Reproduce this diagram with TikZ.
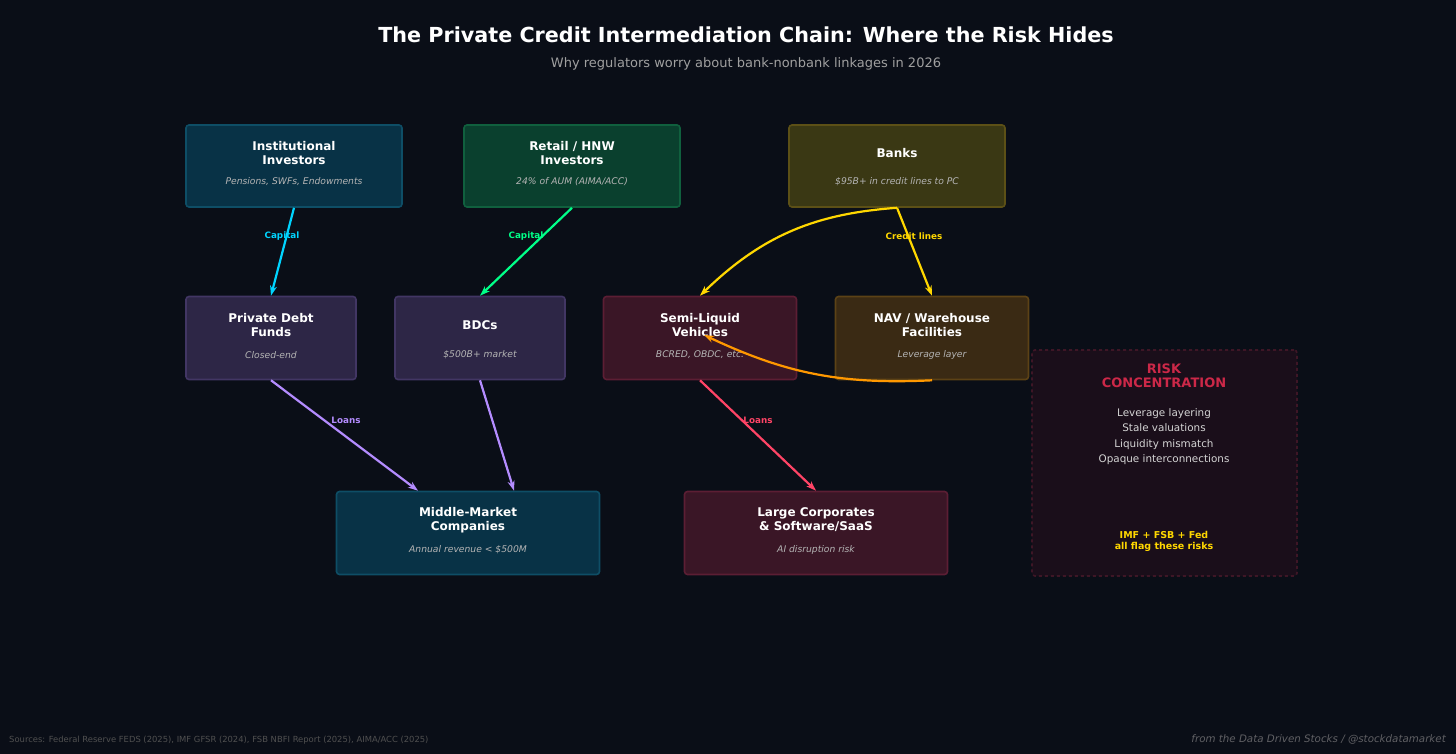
\documentclass[tikz,border=0pt]{standalone}
\usepackage{fontspec}
\setmainfont{DejaVu Sans}
\usetikzlibrary{arrows.meta,positioning}
\definecolor{bgnavy}{RGB}{10, 14, 23}
\definecolor{instfill}{RGB}{8, 50, 70}
\definecolor{instline}{RGB}{14, 78, 102}
\definecolor{retailfill}{RGB}{10, 64, 46}
\definecolor{retailline}{RGB}{16, 96, 62}
\definecolor{bankfill}{RGB}{58, 56, 20}
\definecolor{bankline}{RGB}{92, 80, 22}
\definecolor{fundfill}{RGB}{45, 38, 70}
\definecolor{fundline}{RGB}{66, 54, 100}
\definecolor{semifill}{RGB}{58, 22, 38}
\definecolor{semiline}{RGB}{92, 30, 52}
\definecolor{navfill}{RGB}{58, 42, 20}
\definecolor{navline}{RGB}{92, 66, 22}
\definecolor{riskfill}{RGB}{26, 14, 26}
\definecolor{riskline}{RGB}{62, 22, 38}
\definecolor{capcyan}{RGB}{0, 212, 255}
\definecolor{capgreen}{RGB}{0, 255, 136}
\definecolor{credityellow}{RGB}{255, 215, 0}
\definecolor{levorange}{RGB}{255, 152, 0}
\definecolor{loanpurple}{RGB}{180, 140, 255}
\definecolor{loanred}{RGB}{255, 68, 102}
\definecolor{riskred}{RGB}{204, 40, 72}
\definecolor{subgray}{RGB}{160, 160, 160}
\definecolor{notegray}{RGB}{180, 180, 180}
\definecolor{itemgray}{RGB}{212, 212, 212}
\definecolor{footgray}{RGB}{80, 80, 80}
\definecolor{creditgray}{RGB}{96, 96, 100}

\begin{document}
\begin{tikzpicture}[x=1pt, y=-1pt,
  box/.style={draw, line width=1.6pt, rounded corners=3pt, inner sep=0pt},
  widebox/.style={box, minimum width=216pt, minimum height=82pt},
  midbox/.style={box, minimum width=170pt, minimum height=83pt},
  semibox/.style={box, minimum width=193pt, minimum height=83pt},
  lowbox/.style={box, minimum width=263pt, minimum height=83pt},
  boxtitle/.style={align=center, text=white, font=\bfseries\fontsize{12}{14}\selectfont},
  boxnote/.style={text=notegray, font=\itshape\fontsize{9.2}{11}\selectfont},
  flowlbl/.style={font=\bfseries\fontsize{8.8}{10}\selectfont},
  flow/.style={line width=2.2pt, -{Stealth[length=10pt, width=7pt]}}]

  % Background and frame
  \fill[bgnavy] (0, 0) rectangle (1456, 754);
  \useasboundingbox (0, 0) rectangle (1456, 754);

  % Heading
  \node[text=white, font=\bfseries\fontsize{20.7}{24}\selectfont] (title) at (746, 35) {The Private Credit Intermediation Chain: Where the Risk Hides};
  \node[text=subgray, font=\fontsize{13}{15}\selectfont] (subtitle) at (746, 64) {Why regulators worry about bank-nonbank linkages in 2026};

  % Top row: sources of funding
  \node[widebox, fill=instfill, draw=instline] (inst) at (294, 166) {};
  \node[boxtitle] at ([yshift=13pt]inst.center) {Institutional\\Investors};
  \node[boxnote] at ([yshift=-16pt]inst.center) {Pensions, SWFs, Endowments};

  \node[widebox, fill=retailfill, draw=retailline] (retail) at (572, 166) {};
  \node[boxtitle] at ([yshift=13pt]retail.center) {Retail / HNW\\Investors};
  \node[boxnote] at ([yshift=-16pt]retail.center) {24\% of AUM (AIMA/ACC)};

  \node[widebox, fill=bankfill, draw=bankline] (banks) at (897, 166) {};
  \node[boxtitle] at ([yshift=13pt]banks.center) {Banks};
  \node[boxnote] at ([yshift=-16pt]banks.center) {\$95B+ in credit lines to PC};

  % Middle row: vehicles
  \node[midbox, fill=fundfill, draw=fundline] (pdf) at (271, 338) {};
  \node[boxtitle] at ([yshift=12.5pt]pdf.center) {Private Debt\\Funds};
  \node[boxnote] at ([yshift=-17pt]pdf.center) {Closed-end};

  \node[midbox, fill=fundfill, draw=fundline] (bdc) at (480, 338) {};
  \node[boxtitle] at ([yshift=12.5pt]bdc.center) {BDCs};
  \node[boxnote] at ([yshift=-17pt]bdc.center) {\$500B+ market};

  \node[semibox, fill=semifill, draw=semiline] (semi) at (700, 338) {};
  \node[boxtitle] at ([yshift=12.5pt]semi.center) {Semi-Liquid\\Vehicles};
  \node[boxnote] at ([yshift=-17pt]semi.center) {BCRED, OBDC, etc.};

  \node[semibox, fill=navfill, draw=navline] (nav) at (932, 338) {};
  \node[boxtitle] at ([yshift=12.5pt]nav.center) {NAV / Warehouse\\Facilities};
  \node[boxnote] at ([yshift=-17pt]nav.center) {Leverage layer};

  % Bottom row: borrowers
  \node[lowbox, fill=instfill, draw=instline] (mm) at (468, 533) {};
  \node[boxtitle] at ([yshift=13pt]mm.center) {Middle-Market\\Companies};
  \node[boxnote] at ([yshift=-17pt]mm.center) {Annual revenue < \$500M};

  \node[lowbox, fill=semifill, draw=semiline] (large) at (816, 533) {};
  \node[boxtitle] at ([yshift=13pt]large.center) {Large Corporates\\\& Software/SaaS};
  \node[boxnote] at ([yshift=-17pt]large.center) {AI disruption risk};

  % Flows
  \draw[flow, capcyan] (inst.south) -- (pdf.north);
  \node[flowlbl, text=capcyan] at (282, 236) {Capital};
  \draw[flow, capgreen] (retail.south) -- (bdc.north);
  \node[flowlbl, text=capgreen] at (526, 236) {Capital};
  \draw[flow, credityellow] (banks.south) -- (nav.north);
  \node[flowlbl, text=credityellow] at (914, 236) {Credit lines};
  \draw[flow, credityellow] (banks.south) to[bend right=20] (semi.north);
  \draw[flow, levorange] (nav.south) to[bend left=14] ([xshift=4pt, yshift=3pt]semi.center);

  \draw[flow, loanpurple] (pdf.south) -- ([xshift=-50pt]mm.north);
  \node[flowlbl, text=loanpurple] at (346, 420) {Loans};
  \draw[flow, loanpurple] (bdc.south) -- ([xshift=46pt]mm.north);
  \draw[flow, loanred] (semi.south) -- (large.north);
  \node[flowlbl, text=loanred] at (758, 420) {Loans};

  % Risk panel
  \node[box, dashed, fill=riskfill, draw=riskline, minimum width=265pt, minimum height=226pt] (risk) at (1164.5, 463) {};
  \node[align=center, text=riskred, font=\bfseries\fontsize{13}{14}\selectfont] at (1164, 376) {RISK\\CONCENTRATION};
  \node[align=center, text=itemgray, font=\fontsize{10.4}{15.5}\selectfont] at (1164, 436.5) {Leverage layering\\Stale valuations\\Liquidity mismatch\\Opaque interconnections};
  \node[align=center, text=credityellow, font=\bfseries\fontsize{9.5}{11}\selectfont] at (1164, 541.5) {IMF + FSB + Fed\\all flag these risks};

  % Footer
  \node[anchor=west, inner sep=0pt, text=footgray, font=\fontsize{8.4}{10}\selectfont] at (9, 740) {Sources: Federal Reserve FEDS (2025), IMF GFSR (2024), FSB NBFI Report (2025), AIMA/ACC (2025)};
  \node[anchor=east, inner sep=0pt, text=creditgray, font=\itshape\fontsize{10.3}{13}\selectfont] at (1446, 739) {from the Data Driven Stocks / @stockdatamarket};
\end{tikzpicture}
\end{document}
